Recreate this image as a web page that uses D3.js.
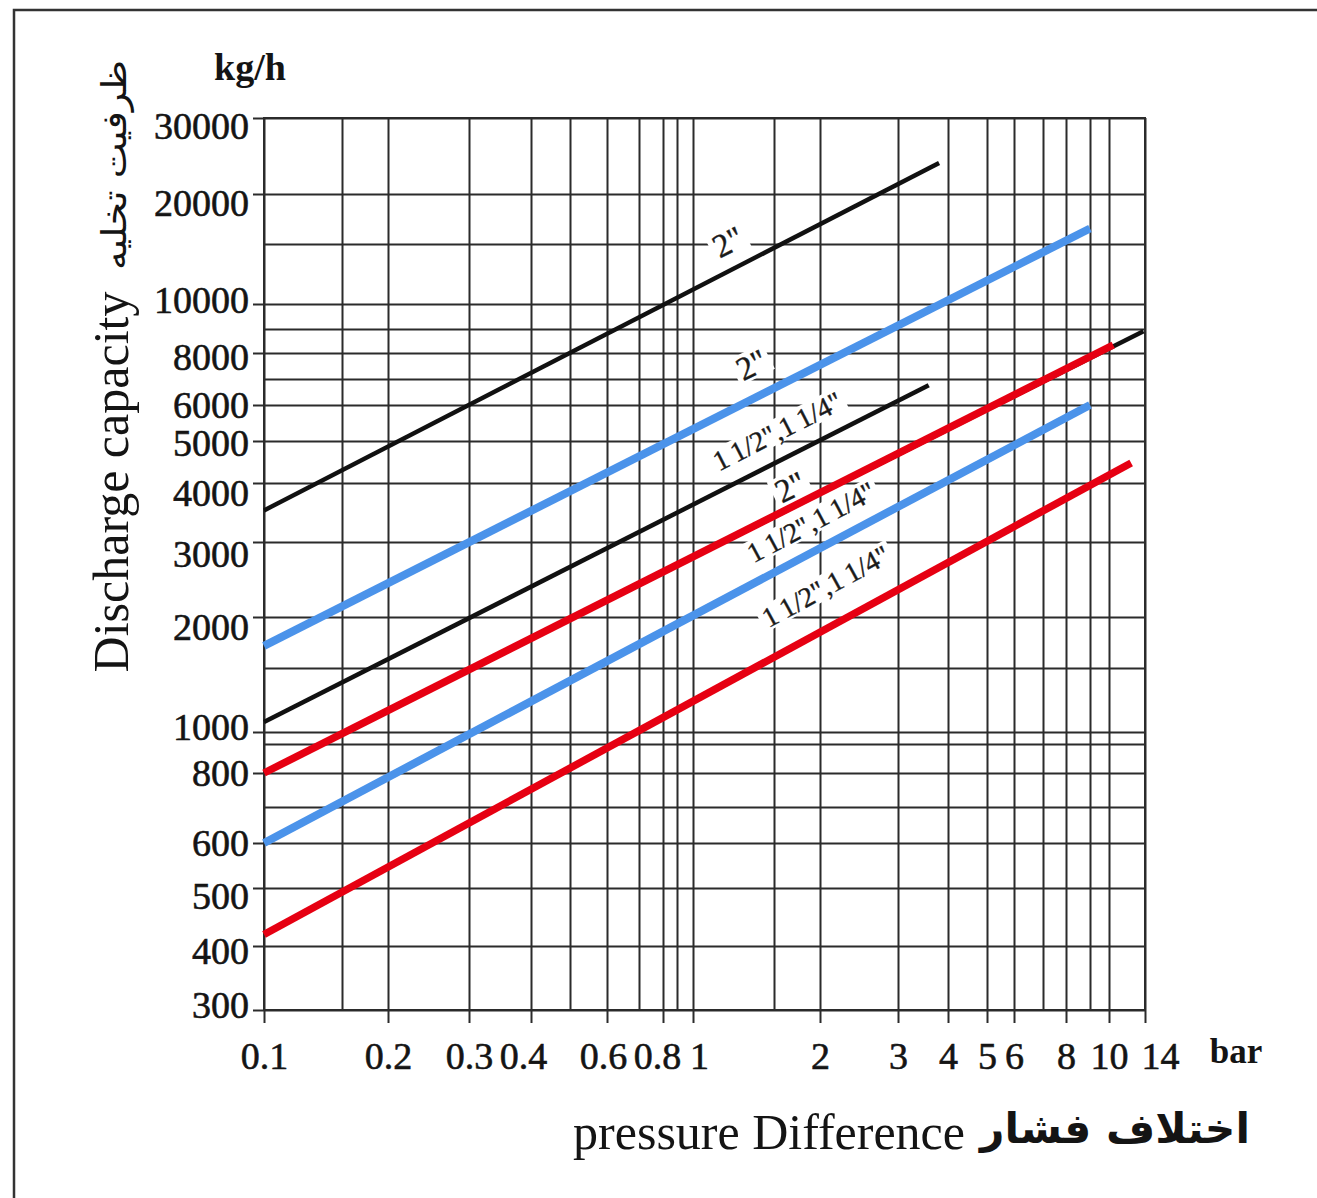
<!DOCTYPE html>
<html>
<head>
<meta charset="utf-8">
<script src="https://cdn.jsdelivr.net/npm/d3@7"></script>
<style>
  body { margin: 0; background: #fff; }
  .grid line { stroke: #2b2b2b; stroke-width: 2; }
  .grid path { display: none; }
  .axis path { display: none; }
  .axis line { stroke: #2b2b2b; stroke-width: 2; }
  .axis text { font-family: "Liberation Serif", "Times New Roman", serif; font-size: 38px; fill: #141414; stroke: #141414; stroke-width: 0.6px; }
</style>
</head>
<body>
<div id="chart-area"></div>
<script>
// ---- data ----
// grid lines (pressure in bar, capacity in kg/h)
const xGrid = [0.1, 0.15, 0.2, 0.3, 0.4, 0.5, 0.6, 0.7, 0.8, 0.9, 1, 1.5, 2, 3, 4, 5, 6, 7, 8, 9, 10, 14]
const xTicks = [0.1, 0.2, 0.3, 0.4, 0.6, 0.8, 1, 2, 3, 4, 5, 6, 8, 10, 14]
const yGrid = [300, 400, 500, 600, 700, 800, 900, 1000, 1500, 2000, 3000, 4000, 5000, 6000, 7000, 8000, 9000, 10000, 15000, 20000, 30000]
const yTicks = [300, 400, 500, 600, 800, 1000, 2000, 3000, 4000, 5000, 6000, 8000, 10000, 20000, 30000]

// six straight lines, top to bottom
const seriesSize = ['2"', '2"', '1 1/2",1 1/4"', '2"', '1 1/2",1 1/4"', '1 1/2",1 1/4"']
const pressureStart = [0.1, 0.1, 0.1, 0.1, 0.1, 0.1]
const pressureEnd = [3.8, 9, 3.58, 10.4, 9, 12.3]
const capacityStart = [3500, 1700, 1065, 800, 600, 418]
const capacityEnd = [23600, 16400, 6750, 8320, 6000, 4450]
const labelPressure = [1.19, 1.34, 1.53, 1.66, 1.89, 2.06]

// thin black line running under the red 2" line out to 14 bar
const extPressure = [0.1, 13.8]
const extCapacity = [800, 8900]

// ---- layout (the printed grid is hand spaced, so the scale is calibrated per grid line) ----
const MARGIN = { LEFT: 264, TOP: 118 }
const WIDTH = 881
const HEIGHT = 892
const xGridPos = [0, 78, 124, 205, 267, 306, 343, 375, 399, 413, 429, 510, 556, 634, 684, 723, 750, 779, 802, 826, 845, 881]
const yGridPos = [892, 828, 770, 725, 689, 655, 626, 614, 550, 499, 424, 365, 323, 287, 261, 235, 211, 186, 126, 76, 0]

// small nudges of printed tick labels off their grid lines
const xLabelNudge = { 0.4: -8, 0.6: -4, 0.8: -6, 1: 6, 14: 15 }
const yLabelNudge = { 30000: 8, 20000: 9, 10000: -4, 8000: 4, 5000: 2, 4000: 10, 3000: 12, 2000: 10, 1000: -5, 500: 8, 400: 5, 300: -5 }

const seriesColor = ["#111", "#4b93ea", "#111", "#e60012", "#4b93ea", "#e60012"]
const seriesWidth = [4.5, 8, 4.5, 7.5, 8, 7.5]
const labelLift = [30, 35, 31, 21, 31, 43]

const svg = d3.select("#chart-area").append("svg")
  .attr("width", 1317)
  .attr("height", 1198)

// outer frame (top and left edges show)
svg.append("path")
  .attr("d", "M14,1198 V10 H1317")
  .attr("fill", "none")
  .attr("stroke", "#333")
  .attr("stroke-width", 2.5)

const g = svg.append("g")
  .attr("transform", `translate(${MARGIN.LEFT}, ${MARGIN.TOP})`)

const x = d3.scaleLog().domain(xGrid).range(xGridPos)
const y = d3.scaleLog().domain(yGrid).range(yGridPos)

// grid
g.append("g")
  .attr("class", "grid")
  .attr("transform", `translate(0, ${HEIGHT})`)
  .call(d3.axisBottom(x).tickValues(xGrid).tickSize(-HEIGHT).tickFormat(""))
g.append("g")
  .attr("class", "grid")
  .call(d3.axisLeft(y).tickValues(yGrid).tickSize(-WIDTH).tickFormat(""))

g.append("rect")
  .attr("width", WIDTH)
  .attr("height", HEIGHT)
  .attr("fill", "none")
  .attr("stroke", "#2b2b2b")
  .attr("stroke-width", 2)

// axes with labels
const xAxis = g.append("g")
  .attr("class", "axis")
  .attr("transform", `translate(0, ${HEIGHT})`)
  .call(d3.axisBottom(x).tickValues(xTicks).tickSize(13).tickPadding(19).tickFormat(d => String(d)))
xAxis.selectAll(".tick text")
  .attr("dx", d => xLabelNudge[d] || 0)

const yAxis = g.append("g")
  .attr("class", "axis")
  .call(d3.axisLeft(y).tickValues(yTicks).tickSize(11).tickPadding(4).tickFormat(d => String(d)))
yAxis.selectAll(".tick text")
  .attr("y", d => yLabelNudge[d] || 0)

// lines
const line = d3.line()
  .x(d => x(d[0]))
  .y(d => y(d[1]))

g.append("path")
  .attr("d", line([[extPressure[0], extCapacity[0]], [extPressure[1], extCapacity[1]]]))
  .attr("fill", "none")
  .attr("stroke", "#111")
  .attr("stroke-width", 4.5)

const seriesPts = seriesSize.map((s, i) => [
  [pressureStart[i], capacityStart[i]],
  [pressureEnd[i], capacityEnd[i]]
])

// label placement along each line
const labels = seriesSize.map((s, i) => {
  const [p0, p1] = seriesPts[i]
  const x0 = x(p0[0]), y0 = y(p0[1]), x1 = x(p1[0]), y1 = y(p1[1])
  const lx = x(labelPressure[i])
  const ly = y0 + (lx - x0) * (y1 - y0) / (x1 - x0) - labelLift[i]
  const angle = Math.atan2(y1 - y0, x1 - x0) * 180 / Math.PI
  return { text: s, lx, ly, angle, long: s.length > 3 }
})

const labelNodes = g.append("g").selectAll("g")
  .data(labels)
  .enter().append("g")
  .attr("transform", d => `translate(${d.lx}, ${d.ly}) rotate(${d.angle})`)

labelNodes.append("rect").attr("fill", "#fff")

g.selectAll(".series")
  .data(seriesPts)
  .enter().append("path")
  .attr("class", "series")
  .attr("d", line)
  .attr("fill", "none")
  .attr("stroke", (d, i) => seriesColor[i])
  .attr("stroke-width", (d, i) => seriesWidth[i])

const labelText = g.append("g").selectAll("text")
  .data(labels)
  .enter().append("text")
  .attr("transform", d => `translate(${d.lx}, ${d.ly}) rotate(${d.angle})`)
  .attr("text-anchor", "middle")
  .attr("dy", "0.35em")
  .attr("font-family", "Liberation Serif, serif")
  .attr("font-size", d => d.long ? "28px" : "33px")
  .attr("fill", "#1a1a1a")
  .attr("stroke", "#1a1a1a")
  .attr("stroke-width", 0.4)
  .text(d => d.text.replace(/ /g, "\u2009"))

labelText.each(function(d) {
  const bb = this.getBBox()
  d.w = bb.width + 8
  d.h = bb.height * 0.8
})
labelNodes.select("rect")
  .attr("x", d => -d.w / 2)
  .attr("y", d => -d.h / 2)
  .attr("width", d => d.w)
  .attr("height", d => d.h)

// titles
svg.append("text")
  .attr("x", 250).attr("y", 80)
  .attr("text-anchor", "middle")
  .attr("font-family", "Liberation Serif, serif")
  .attr("font-weight", "bold")
  .attr("font-size", "38px")
  .attr("fill", "#141414")
  .text("kg/h")

svg.append("text")
  .attr("x", 1236).attr("y", 1063)
  .attr("text-anchor", "middle")
  .attr("font-family", "Liberation Serif, serif")
  .attr("font-weight", "bold")
  .attr("font-size", "35px")
  .attr("fill", "#141414")
  .text("bar")

svg.append("text")
  .attr("transform", "translate(128, 482) rotate(-90)")
  .attr("text-anchor", "middle")
  .attr("font-family", "Liberation Serif, serif")
  .attr("font-size", "50px")
  .attr("fill", "#141414")
  .text("Discharge capacity")

svg.append("text")
  .attr("transform", "translate(126, 165) rotate(-90)")
  .attr("text-anchor", "middle")
  .attr("font-family", "DejaVu Sans, sans-serif")
  .attr("font-size", "34px")
  .attr("textLength", 210)
  .attr("lengthAdjust", "spacingAndGlyphs")
  .attr("fill", "#141414")
  .text("ظرفیت تخلیه")

svg.append("text")
  .attr("x", 965).attr("y", 1149)
  .attr("text-anchor", "end")
  .attr("font-family", "Liberation Serif, serif")
  .attr("font-size", "50px")
  .attr("fill", "#141414")
  .text("pressure Difference")

svg.append("text")
  .attr("x", 1115).attr("y", 1143)
  .attr("text-anchor", "middle")
  .attr("font-family", "DejaVu Sans, sans-serif")
  .attr("font-weight", "bold")
  .attr("font-size", "42px")
  .attr("textLength", 270)
  .attr("lengthAdjust", "spacingAndGlyphs")
  .attr("fill", "#141414")
  .text("اختلاف فشار")
</script>
</body>
</html>
